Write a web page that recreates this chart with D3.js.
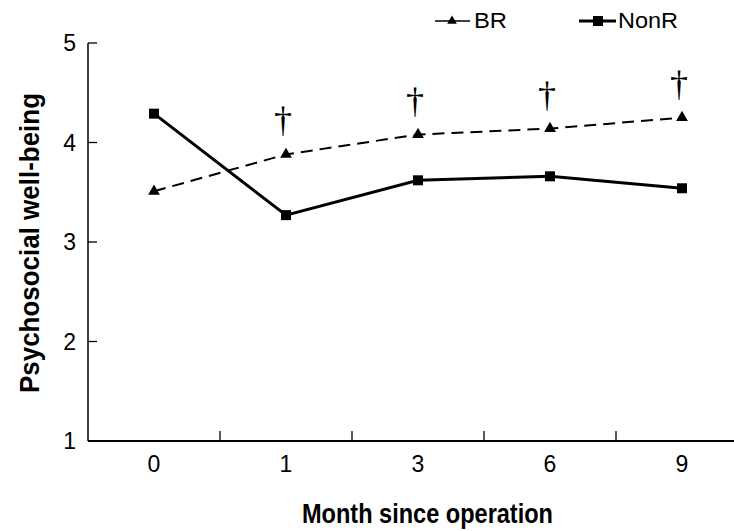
<!DOCTYPE html>
<html lang="en">
<head>
<meta charset="UTF-8">
<title>Psychosocial well-being</title>
<style>
body { margin: 0; background: #fff; }
text { font-family: "Liberation Sans", Arial, sans-serif; fill: #000; }
.tick-label { font-size: 23px; }
.title { font-size: 28px; font-weight: bold; }
.legend text { font-size: 22px; }
.dagger { font-family: "Liberation Serif", "Times New Roman", serif; font-size: 36px; }
</style>
</head>
<body>
<svg width="734" height="531"></svg>
<script src="https://d3js.org/d3.v7.min.js"></script>
<script>
// months on the x axis
var months = ["0", "1", "3", "6", "9"];
// mean scores
var brValues = [3.51, 3.88, 4.08, 4.14, 4.25];
var nonrValues = [4.29, 3.27, 3.62, 3.66, 3.54];
// months where the groups differ significantly
var daggerMonths = ["1", "3", "6", "9"];
var yTicks = [1, 2, 3, 4, 5];

var svg = d3.select("svg");

var x = d3.scaleBand().domain(months).range([88, 748]);
var y = d3.scaleLinear().domain([1, 5]).range([441, 43]);

// y axis, ticks point inward
svg.append("line")
    .attr("x1", 88).attr("x2", 88)
    .attr("y1", y(5)).attr("y2", y(1))
    .attr("stroke", "#000").attr("stroke-width", 1.5);

svg.selectAll(".ytick").data(yTicks).enter().append("line")
    .attr("x1", 88).attr("x2", 97)
    .attr("y1", function(d) { return y(d); })
    .attr("y2", function(d) { return y(d); })
    .attr("stroke", "#000").attr("stroke-width", 1.3);

svg.selectAll(".ylab").data(yTicks).enter().append("text")
    .attr("class", "tick-label")
    .attr("x", 76)
    .attr("y", function(d) { return y(d); })
    .attr("dy", "0.36em")
    .attr("text-anchor", "end")
    .text(function(d) { return d; });

// x axis
svg.append("line")
    .attr("x1", 88).attr("x2", 734)
    .attr("y1", y(1)).attr("y2", y(1))
    .attr("stroke", "#000").attr("stroke-width", 2);

svg.selectAll(".xtick").data(months.slice(1)).enter().append("line")
    .attr("x1", function(d) { return x(d); })
    .attr("x2", function(d) { return x(d); })
    .attr("y1", y(1)).attr("y2", y(1) - 10)
    .attr("stroke", "#000").attr("stroke-width", 1.3);

svg.selectAll(".xlab").data(months).enter().append("text")
    .attr("class", "tick-label")
    .attr("x", function(d) { return x(d) + x.bandwidth() / 2; })
    .attr("y", 472)
    .attr("text-anchor", "middle")
    .text(function(d) { return d; });

// axis titles (the original face is condensed)
svg.append("text")
    .attr("class", "title")
    .attr("x", 302).attr("y", 523)
    .attr("textLength", 251)
    .attr("lengthAdjust", "spacingAndGlyphs")
    .text("Month since operation");

svg.append("text")
    .attr("class", "title")
    .attr("transform", "translate(39,393) rotate(-90)")
    .attr("textLength", 300)
    .attr("lengthAdjust", "spacingAndGlyphs")
    .text("Psychosocial well-being");

var cx = function(d, i) { return x(months[i]) + x.bandwidth() / 2; };
var line = d3.line()
    .x(cx)
    .y(function(d) { return y(d); });

// BR: dashed line with triangles
svg.append("path")
    .datum(brValues)
    .attr("d", line)
    .attr("fill", "none")
    .attr("stroke", "#000")
    .attr("stroke-width", 2)
    .attr("stroke-dasharray", "12,7");

var tri = d3.symbol().type(d3.symbolTriangle).size(60);
svg.selectAll(".br").data(brValues).enter().append("path")
    .attr("d", tri)
    .attr("transform", function(d, i) { return "translate(" + cx(d, i) + "," + y(d) + ")"; })
    .attr("fill", "#000");

// NonR: solid line with squares
svg.append("path")
    .datum(nonrValues)
    .attr("d", line)
    .attr("fill", "none")
    .attr("stroke", "#000")
    .attr("stroke-width", 3);

svg.selectAll(".nonr").data(nonrValues).enter().append("rect")
    .attr("x", function(d, i) { return cx(d, i) - 5; })
    .attr("y", function(d) { return y(d) - 5; })
    .attr("width", 10).attr("height", 10)
    .attr("fill", "#000");

// significance daggers above BR points
svg.selectAll(".dagger").data(daggerMonths).enter().append("text")
    .attr("class", "dagger")
    .attr("x", function(d) { return x(d) + x.bandwidth() / 2 - 3; })
    .attr("y", function(d) { return y(brValues[months.indexOf(d)]) - 22; })
    .attr("text-anchor", "middle")
    .text("\u2020");

// legend
var legend = svg.append("g").attr("class", "legend");
legend.append("line")
    .attr("x1", 435).attr("x2", 470).attr("y1", 21).attr("y2", 21)
    .attr("stroke", "#000").attr("stroke-width", 1.5);
legend.append("path")
    .attr("d", d3.symbol().type(d3.symbolTriangle).size(40))
    .attr("transform", "translate(452,21)");
legend.append("text").attr("x", 474).attr("y", 28)
    .attr("textLength", 33).attr("lengthAdjust", "spacingAndGlyphs")
    .text("BR");

legend.append("line")
    .attr("x1", 579).attr("x2", 616).attr("y1", 21).attr("y2", 21)
    .attr("stroke", "#000").attr("stroke-width", 3);
legend.append("rect")
    .attr("x", 593).attr("y", 16).attr("width", 10).attr("height", 10);
legend.append("text").attr("x", 618).attr("y", 28)
    .attr("textLength", 60).attr("lengthAdjust", "spacingAndGlyphs")
    .text("NonR");
</script>
</body>
</html>
